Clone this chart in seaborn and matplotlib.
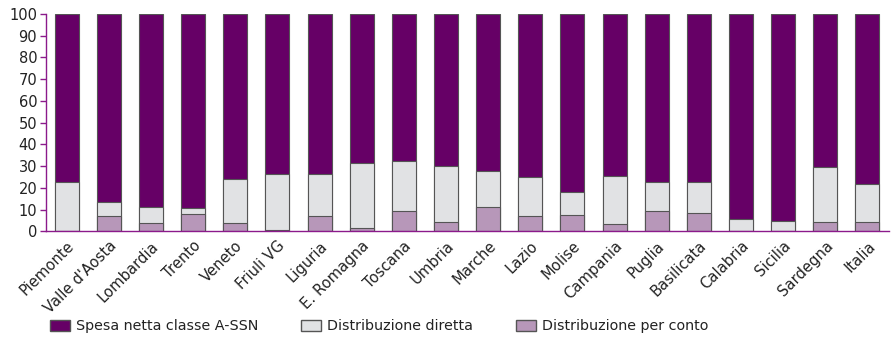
import numpy as np
import pandas as pd
import matplotlib
matplotlib.use('Agg')
import matplotlib.pyplot as plt
import seaborn as sns
from matplotlib.patches import Patch

regioni = ['Piemonte', "Valle d'Aosta", 'Lombardia', 'Trento', 'Veneto', 'Friuli VG',
           'Liguria', 'E. Romagna', 'Toscana', 'Umbria', 'Marche', 'Lazio', 'Molise',
           'Campania', 'Puglia', 'Basilicata', 'Calabria', 'Sicilia', 'Sardegna', 'Italia']
# quota distribuzione per conto (%)
dpc = [0.3, 7.0, 4.0, 8.0, 3.7, 0.7, 7.0, 1.5, 9.3, 4.5,
       11.0, 7.3, 7.5, 3.5, 9.3, 8.5, 0.3, 0.3, 4.5, 4.5]
# quota distribuzione diretta (%)
dd = [22.2, 6.7, 7.0, 2.7, 20.3, 25.6, 19.5, 30.0, 23.2, 25.5,
      17.0, 17.7, 10.5, 22.2, 13.4, 14.2, 5.2, 4.7, 25.0, 17.2]
# spesa netta classe A-SSN (%)
spesa = [100 - a - b for a, b in zip(dpc, dd)]

df = pd.DataFrame({'regione': regioni, 'dpc': dpc, 'dd': dd, 'spesa': spesa})
df['cum_dd'] = df['dpc'] + df['dd']
df['cum_tot'] = df['cum_dd'] + df['spesa']

viola = '#660066'
grigio = '#e1e2e4'
lilla = '#b797b9'
bordo = '#555555'
asse = '#8b1a8b'

sns.set_style('white')
plt.rcParams['font.family'] = ['DejaVu Sans']

fig, ax = plt.subplots(figsize=(8.93, 3.48), dpi=100)
fig.subplots_adjust(left=0.051, right=0.995, top=0.96, bottom=0.335)

# barre sovrapposte per ottenere lo stack
for col, c in [('cum_tot', viola), ('cum_dd', grigio), ('dpc', lilla)]:
    sns.barplot(data=df, x='regione', y=col, color=c, saturation=1, width=0.57,
                edgecolor=bordo, linewidth=0.8, ax=ax)

ax.set_xlim(-0.5, len(regioni) - 0.5)
ax.set_ylim(0, 100)
ax.set_yticks(range(0, 101, 10))
ax.set_xlabel('')
ax.set_ylabel('')

ax.set_xticks(np.arange(len(regioni)))
ax.set_xticklabels(regioni, rotation=45, ha='right', rotation_mode='anchor', fontsize=10.6,
                   color='#222222')
ax.tick_params(axis='x', length=0, pad=5)
ax.set_xticks(np.arange(len(regioni) + 1) - 0.5, minor=True)
ax.tick_params(axis='x', which='minor', length=5, color=asse, width=1)
ax.tick_params(axis='y', length=4, color=asse, width=1, labelsize=10.5, pad=2, left=True,
               labelcolor='#222222')

sns.despine(ax=ax)
for s in ['left', 'bottom']:
    ax.spines[s].set_color(asse)
    ax.spines[s].set_linewidth(1)

handles = [Patch(facecolor=viola, edgecolor=bordo, label='Spesa netta classe A-SSN'),
           Patch(facecolor=grigio, edgecolor=bordo, label='Distribuzione diretta'),
           Patch(facecolor=lilla, edgecolor=bordo, label='Distribuzione per conto')]
leg = fig.legend(handles=handles, loc='lower left', bbox_to_anchor=(0.042, 0.005), ncol=3,
                 frameon=False, fontsize=10.3, handlelength=1.4, handleheight=0.9,
                 columnspacing=3.0, handletextpad=0.4)
for t in leg.get_texts():
    t.set_color('#222222')

fig.savefig('out.png', dpi=100)
